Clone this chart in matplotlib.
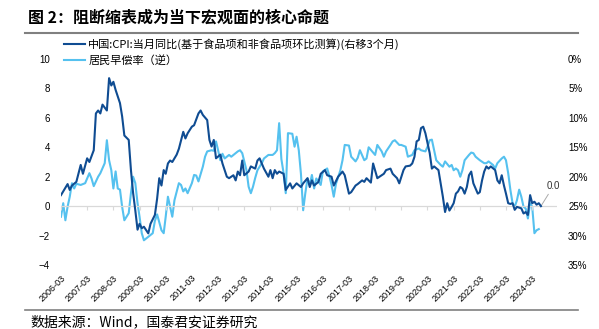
import numpy as np
import pandas as pd
import matplotlib
matplotlib.use("Agg")
import matplotlib.pyplot as plt
import matplotlib.dates as mdates

# CPI (left axis, %)
cpi_months = [
    "2006-03", "2006-06", "2006-07", "2006-08", "2006-10", "2006-12", "2007-01", "2007-03",
    "2007-04", "2007-06", "2007-07", "2007-08", "2007-09", "2007-10", "2007-12", "2008-01",
    "2008-02", "2008-03", "2008-04", "2008-06", "2008-07", "2008-08", "2008-10", "2008-11",
    "2008-12", "2009-01", "2009-02", "2009-03", "2009-04", "2009-05", "2009-07", "2009-08",
    "2009-10", "2009-11", "2009-12", "2010-01", "2010-02", "2010-03", "2010-04", "2010-05",
    "2010-06", "2010-08", "2010-09", "2010-11", "2010-12", "2011-01", "2011-03", "2011-04",
    "2011-06", "2011-07", "2011-08", "2011-10", "2011-11", "2011-12", "2012-01", "2012-02",
    "2012-04", "2012-05", "2012-07", "2012-08", "2012-10", "2012-11", "2012-12", "2013-01",
    "2013-02", "2013-03", "2013-05", "2013-06", "2013-08", "2013-09", "2013-10", "2013-11",
    "2013-12", "2014-02", "2014-03", "2014-04", "2014-05", "2014-06", "2014-07", "2014-09",
    "2014-10", "2014-12", "2015-01", "2015-03", "2015-05", "2015-06", "2015-08", "2015-09",
    "2015-10", "2015-11", "2016-01", "2016-02", "2016-04", "2016-05", "2016-07", "2016-08",
    "2016-10", "2016-12", "2017-01", "2017-03", "2017-04", "2017-06", "2017-07", "2017-09",
    "2017-10", "2017-11", "2018-01", "2018-02", "2018-04", "2018-05", "2018-07", "2018-08",
    "2018-10", "2018-11", "2019-01", "2019-02", "2019-04", "2019-05", "2019-07", "2019-08",
    "2019-09", "2019-10", "2019-11", "2019-12", "2020-01", "2020-02", "2020-04", "2020-05",
    "2020-06", "2020-08", "2020-09", "2020-10", "2020-11", "2020-12", "2021-01", "2021-02",
    "2021-03", "2021-04", "2021-05", "2021-06", "2021-07", "2021-08", "2021-09", "2021-10",
    "2021-11", "2021-12", "2022-02", "2022-03", "2022-04", "2022-05", "2022-06", "2022-07",
    "2022-08", "2022-10", "2022-11", "2022-12", "2023-01", "2023-02", "2023-03", "2023-04",
    "2023-05", "2023-06", "2023-07", "2023-08", "2023-10", "2023-11", "2023-12", "2024-01",
    "2024-02", "2024-03", "2024-04", "2024-05", "2024-06", "2024-07",
]
cpi_values = [
    0.75, 1.5, 1.1, 1.4, 1.65, 2.8, 2.2, 3.25,
    3.0, 3.8, 6.3, 6.5, 6.3, 6.9, 6.5, 8.7,
    8.2, 8.45, 7.9, 7.0, 6.1, 4.8, 4.5, 2.45,
    0.9, -0.3, -1.6, -1.2, -1.5, -1.4, -1.85, -1.2,
    -0.6, 0.5, 1.9, 1.4, 2.45, 2.2, 2.9, 3.1,
    3.0, 3.5, 3.9, 5.05, 4.6, 4.95, 5.4, 5.5,
    6.3, 6.5, 6.2, 5.85, 4.5, 4.05, 4.5, 3.25,
    3.5, 2.9, 2.0, 1.9, 2.1, 1.75, 2.35, 2.1,
    3.1, 2.1, 2.35, 2.7, 2.55, 3.1, 3.25, 2.9,
    2.55, 2.0, 2.45, 1.9, 2.45, 2.2, 2.35, 2.2,
    1.1, 1.55, 1.2, 1.55, 1.3, 1.55, 1.9, 1.3,
    1.75, 1.4, 1.65, 2.2, 2.45, 2.1, 2.0, 1.4,
    2.0, 2.35, 2.1, 0.85, 0.95, 1.4, 1.5, 1.75,
    1.65, 1.9, 1.6, 2.9, 1.9, 2.0, 2.2, 2.45,
    2.55, 2.2, 1.9, 1.55, 2.45, 2.7, 2.75, 2.9,
    3.35, 4.4, 4.5, 5.3, 5.4, 4.95, 3.6, 2.55,
    2.7, 2.45, 1.55, 0.65, -0.4, 0.2, -0.3, -0.05,
    0.2, 0.85, 1.0, 1.3, 1.2, 0.85, 1.3, 2.1,
    2.35, 1.55, 0.85, 0.95, 1.75, 2.35, 2.7, 2.55,
    2.7, 2.45, 1.75, 1.55, 2.1, 1.4, 0.85, 0.2,
    0.15, 0.2, -0.25, -0.05, -0.15, -0.5, -0.4, -0.6,
    0.75, 0.2, 0.3, 0.1, 0.2, 0.0,
]

# household prepayment rate (right axis, %, inverted)
prepay_months = [
    "2006-03", "2006-04", "2006-05", "2006-06", "2006-07", "2006-08", "2006-09", "2006-10",
    "2006-12", "2007-02", "2007-04", "2007-05", "2007-06", "2007-08", "2007-09", "2007-11",
    "2007-12", "2008-01", "2008-02", "2008-03", "2008-04", "2008-05", "2008-06", "2008-07",
    "2008-08", "2008-10", "2008-11", "2008-12", "2009-01", "2009-02", "2009-03", "2009-04",
    "2009-05", "2009-07", "2009-09", "2009-10", "2009-11", "2010-01", "2010-02", "2010-03",
    "2010-04", "2010-05", "2010-06", "2010-07", "2010-09", "2010-10", "2010-11", "2010-12",
    "2011-01", "2011-03", "2011-04", "2011-05", "2011-06", "2011-08", "2011-09", "2011-10",
    "2011-12", "2012-01", "2012-02", "2012-03", "2012-04", "2012-05", "2012-06", "2012-08",
    "2012-09", "2012-11", "2012-12", "2013-01", "2013-02", "2013-04", "2013-05", "2013-06",
    "2013-07", "2013-08", "2013-09", "2013-11", "2013-12", "2014-02", "2014-04", "2014-05",
    "2014-06", "2014-07", "2014-08", "2014-09", "2014-10", "2014-11", "2015-01", "2015-02",
    "2015-03", "2015-04", "2015-05", "2015-06", "2015-07", "2015-08", "2015-09", "2015-10",
    "2015-11", "2015-12", "2016-02", "2016-03", "2016-05", "2016-06", "2016-07", "2016-08",
    "2016-09", "2016-11", "2016-12", "2017-01", "2017-03", "2017-04", "2017-06", "2017-07",
    "2017-08", "2017-10", "2017-11", "2017-12", "2018-02", "2018-03", "2018-04", "2018-06",
    "2018-07", "2018-08", "2018-10", "2018-11", "2018-12", "2019-02", "2019-03", "2019-05",
    "2019-06", "2019-08", "2019-09", "2019-11", "2019-12", "2020-02", "2020-03", "2020-04",
    "2020-05", "2020-06", "2020-07", "2020-09", "2020-10", "2020-11", "2021-01", "2021-02",
    "2021-03", "2021-04", "2021-05", "2021-06", "2021-07", "2021-08", "2021-10", "2021-11",
    "2021-12", "2022-01", "2022-03", "2022-05", "2022-06", "2022-07", "2022-09", "2022-10",
    "2022-11", "2023-01", "2023-02", "2023-03", "2023-04", "2023-05", "2023-06", "2023-07",
    "2023-08", "2023-09", "2023-10", "2023-11", "2023-12", "2024-01", "2024-02", "2024-03",
    "2024-04", "2024-05", "2024-06",
]
prepay_values = [
    26.8, 24.5, 27.4, 25.1, 23.4, 21.1, 22.0, 21.2,
    21.4, 21.1, 19.4, 20.3, 21.6, 20.0, 19.4, 17.7,
    13.8, 17.2, 18.9, 22.0, 19.1, 22.0, 22.2, 25.1,
    27.4, 26.2, 22.8, 20.0, 21.1, 24.5, 26.8, 29.6,
    30.8, 30.2, 29.6, 27.5, 26.4, 29.1, 29.6, 26.8,
    23.4, 25.1, 26.8, 24.0, 21.1, 21.4, 22.5, 22.0,
    22.8, 21.1, 19.7, 19.8, 20.8, 18.3, 16.6, 15.7,
    15.5, 15.6, 14.0, 15.5, 17.2, 16.1, 16.9, 16.3,
    16.6, 16.0, 15.7, 15.5, 16.0, 18.9, 21.7, 22.8,
    21.7, 20.2, 18.9, 17.7, 16.9, 16.3, 16.3, 16.0,
    15.5, 10.9, 17.0, 19.4, 22.8, 12.6, 12.7, 14.9,
    13.2, 15.5, 19.5, 25.7, 22.8, 20.3, 21.4, 19.7,
    22.0, 20.3, 21.4, 19.1, 18.6, 19.9, 21.4, 23.4,
    21.2, 18.9, 17.2, 14.6, 14.7, 16.6, 17.4, 16.8,
    15.5, 17.2, 16.9, 15.0, 15.9, 16.3, 14.6, 15.7,
    16.6, 15.7, 14.6, 14.0, 13.8, 14.6, 14.6, 14.9,
    16.6, 16.3, 15.5, 15.2, 15.5, 15.7, 14.9, 13.8,
    13.7, 15.5, 17.2, 18.0, 18.3, 17.4, 18.3, 18.0,
    18.9, 18.6, 18.9, 20.0, 18.9, 17.2, 16.3, 15.9,
    16.0, 16.6, 17.2, 17.7, 17.7, 17.4, 18.0, 18.6,
    17.7, 16.9, 16.6, 17.2, 19.4, 22.2, 24.5, 25.1,
    24.0, 22.2, 23.4, 25.1, 25.4, 27.1, 24.5, 25.1,
    29.6, 29.1, 28.9,
]

label_cpi = "中国:CPI:当月同比(基于食品项和非食品项环比测算)(右移3个月)"
label_prepay = "居民早偿率（逆）"
tick_years = list(range(2006, 2025))

DARK = "#0f4c92"
LIGHT = "#55c1ef"
CJK = ["Noto Sans CJK SC", "DejaVu Sans"]
plt.rcParams["font.family"] = ["Liberation Sans", "Noto Sans CJK SC"]

cpi_dates = pd.to_datetime(cpi_months)
prepay_dates = pd.to_datetime(prepay_months)

fig = plt.figure(figsize=(5.99, 3.29), dpi=100)
ax = fig.add_axes([61 / 599, 1 - 265 / 329, (557 - 61) / 599, (265 - 59) / 329])
ax2 = ax.twinx()

ax.axhline(0, color="#d9d9d9", lw=0.9, zorder=1)
l1, = ax.plot(cpi_dates, cpi_values, color=DARK, lw=1.5, zorder=4)
l2, = ax2.plot(prepay_dates, prepay_values, color=LIGHT, lw=1.5, zorder=3)
ax.set_zorder(ax2.get_zorder() + 1)
ax.patch.set_visible(False)

ax.set_xlim(pd.Timestamp("2006-03-01"), pd.Timestamp("2025-02-10"))
ax.set_ylim(-4, 10)
ax.set_yticks(range(-4, 11, 2))
ax2.set_ylim(35, 0)
ax2.set_yticks(range(0, 36, 5))
ax2.set_yticklabels([f"{v}%" for v in range(0, 36, 5)])

ticks = [pd.Timestamp(f"{y}-03-01") for y in tick_years]
ax.set_xticks(ticks)
ax.set_xticklabels([f"{y}-03" for y in tick_years], rotation=45, ha="right",
                   va="top", rotation_mode="anchor", fontsize=6.5)
ax.tick_params(axis="x", length=0, pad=6)
ax.tick_params(axis="y", length=0, pad=8, labelsize=7)
ax2.tick_params(axis="y", length=0, pad=8, labelsize=7)

# small tick marks along the zero line
sec = ax.secondary_xaxis(4 / 14)
sec.set_xticks(ticks)
sec.set_xticklabels([])
sec.tick_params(axis="x", length=3, color="#d9d9d9", width=0.8)
sec.spines["bottom"].set_visible(False)

for a in (ax, ax2):
    for s in a.spines.values():
        s.set_visible(False)

ax.annotate("0.0", xy=(cpi_dates[-1], cpi_values[-1]), xytext=(4, 12),
            textcoords="offset points", fontsize=7, color="#333333",
            arrowprops=dict(arrowstyle="-", color="#aaaaaa", lw=0.7,
                            shrinkA=0, shrinkB=0))

fig.legend([l1, l2], [label_cpi, label_prepay], loc="upper left",
           bbox_to_anchor=(64 / 599, 1 - 38 / 329), frameon=False,
           prop={"family": CJK, "size": 8}, handlelength=1.9,
           handletextpad=0.3, labelspacing=0.45, borderpad=0, borderaxespad=0)

fig.text(28 / 599, 1 - 18 / 329, "图 2：阻断缩表成为当下宏观面的核心命题",
         family=CJK, fontsize=11.5, fontweight="bold", va="center", ha="left")
fig.add_artist(plt.Line2D([25 / 599, 578 / 599], [1 - 33 / 329] * 2,
                          color="#808080", lw=1.5))
fig.add_artist(plt.Line2D([25 / 599, 578 / 599], [1 - 310 / 329] * 2,
                          color="#808080", lw=1.2))
fig.text(30 / 599, 1 - 322 / 329, "数据来源：Wind，国泰君安证券研究",
         family=CJK, fontsize=10, va="center", ha="left")

fig.savefig("out.png", dpi=100)
